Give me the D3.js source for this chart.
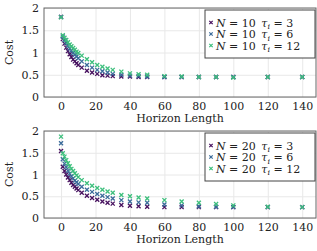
<!DOCTYPE html>
<html>
<head>
<meta charset="utf-8">
<script src="https://cdn.jsdelivr.net/npm/d3@7"></script>
<style>
  body { margin: 0; background: #fff; }
  svg text { font-family: "DejaVu Serif", serif; fill: #222; }
  .tick text { font-size: 11px; }
  .grid line { stroke: #e8e8e8; }
  .axis-label { font-size: 11px; }
  .legend text { font-size: 11px; }
</style>
</head>
<body>
<div id="chart"></div>
<script>
// horizon lengths (shared by all series)
let horizons = [0, 1, 2, 3, 4, 5, 6, 7, 8, 9, 10, 12, 15, 18, 21, 24, 27, 30,
                35, 40, 45, 50, 60, 70, 80, 90, 100, 120, 140];

// N = 10
let n10tau3  = [1.80, 1.30, 1.20, 1.11, 1.03, 0.96, 0.90, 0.84, 0.80, 0.76, 0.72, 0.66, 0.59, 0.55,
                0.52, 0.49, 0.48, 0.47, 0.46, 0.46, 0.45, 0.45, 0.45, 0.45, 0.45, 0.45, 0.45, 0.45, 0.45];
let n10tau6  = [1.80, 1.36, 1.28, 1.22, 1.15, 1.09, 1.04, 0.99, 0.95, 0.91, 0.87, 0.80, 0.72, 0.66,
                0.61, 0.58, 0.55, 0.52, 0.50, 0.48, 0.47, 0.46, 0.45, 0.45, 0.45, 0.45, 0.45, 0.45, 0.45];
let n10tau12 = [1.79, 1.39, 1.33, 1.28, 1.23, 1.18, 1.14, 1.10, 1.06, 1.02, 0.99, 0.93, 0.85, 0.78,
                0.72, 0.68, 0.64, 0.61, 0.57, 0.53, 0.51, 0.50, 0.47, 0.46, 0.45, 0.45, 0.44, 0.45, 0.45];

// N = 20
let n20tau3  = [1.54, 1.18, 1.08, 1.00, 0.93, 0.87, 0.81, 0.76, 0.72, 0.68, 0.64, 0.58, 0.51, 0.46,
                0.42, 0.38, 0.35, 0.33, 0.30, 0.28, 0.27, 0.26, 0.25, 0.25, 0.25, 0.25, 0.25, 0.25, 0.25];
let n20tau6  = [1.72, 1.35, 1.25, 1.17, 1.09, 1.02, 0.96, 0.91, 0.86, 0.82, 0.78, 0.72, 0.65, 0.60,
                0.55, 0.51, 0.48, 0.45, 0.41, 0.38, 0.36, 0.35, 0.31, 0.29, 0.27, 0.26, 0.25, 0.25, 0.25];
let n20tau12 = [1.87, 1.49, 1.41, 1.33, 1.26, 1.19, 1.13, 1.08, 1.03, 0.98, 0.94, 0.87, 0.80, 0.74,
                0.69, 0.65, 0.61, 0.58, 0.53, 0.50, 0.47, 0.45, 0.41, 0.38, 0.35, 0.32, 0.29, 0.26, 0.25];

let taus = [3, 6, 12];
let colors = ["#46105e", "#3a6b9a", "#3cbf7c"];
let xTicks = [0, 20, 40, 60, 80, 100, 120, 140];
let yTicks = [0, 0.5, 1, 1.5, 2];

let W = 317, H = 251;
let svg = d3.select("#chart").append("svg")
    .attr("width", W)
    .attr("height", H);

let x = d3.scaleLinear().domain([-9.9, 148]).range([44, 316]);

drawPanel(8, 97, 10, [n10tau3, n10tau6, n10tau12], 10);
drawPanel(131, 218, 20, [n20tau3, n20tau6, n20tau12], 133);

function drawPanel(top, bottom, N, series, legendTop) {
    let y = d3.scaleLinear().domain([0, 2]).range([bottom, top]);
    let g = svg.append("g");

    // grid
    g.append("g")
        .attr("class", "grid")
        .attr("transform", "translate(0," + bottom + ")")
        .call(d3.axisBottom(x).tickValues(xTicks).tickSize(-(bottom - top)).tickFormat(""))
        .call(s => s.select(".domain").remove());
    g.append("g")
        .attr("class", "grid")
        .attr("transform", "translate(44,0)")
        .call(d3.axisLeft(y).tickValues(yTicks).tickSize(-272).tickFormat(""))
        .call(s => s.select(".domain").remove());

    // axes
    let xa = g.append("g")
        .attr("transform", "translate(0," + bottom + ")")
        .call(d3.axisBottom(x).tickValues(xTicks).tickSize(0).tickPadding(5));
    xa.select(".domain").remove();
    let ya = g.append("g")
        .attr("transform", "translate(44,0)")
        .call(d3.axisLeft(y).tickValues(yTicks).tickSize(0).tickPadding(5).tickFormat(d3.format("")));
    ya.select(".domain").remove();

    // frame
    g.append("rect")
        .attr("x", 44).attr("y", top)
        .attr("width", 272).attr("height", bottom - top)
        .attr("fill", "none")
        .attr("stroke", "#666")
        .attr("stroke-width", 1);

    // markers
    series.forEach(function(vals, si) {
        let pts = horizons.map((h, i) => ({h: h, c: vals[i]}));
        g.selectAll(".m" + si)
            .data(pts)
            .enter().append("path")
            .attr("transform", d => "translate(" + x(d.h) + "," + y(d.c) + ")")
            .attr("d", "M-2,-2L2,2M-2,2L2,-2")
            .attr("stroke", colors[si])
            .attr("stroke-width", 1.3)
            .attr("fill", "none");
    });

    // labels
    g.append("text")
        .attr("class", "axis-label")
        .attr("x", (44 + 316) / 2)
        .attr("y", bottom + 25)
        .attr("text-anchor", "middle")
        .text("Horizon Length");
    g.append("text")
        .attr("class", "axis-label")
        .attr("transform", "translate(13," + ((top + bottom) / 2) + ") rotate(-90)")
        .attr("text-anchor", "middle")
        .text("Cost");

    // legend
    let lg = g.append("g").attr("class", "legend");
    lg.append("rect")
        .attr("x", 205).attr("y", legendTop)
        .attr("width", 110).attr("height", 48)
        .attr("fill", "#fff")
        .attr("stroke", "#444")
        .attr("stroke-width", 1);
    taus.forEach(function(t, i) {
        let cy = legendTop + 12.5 + i * 11.5;
        lg.append("path")
            .attr("transform", "translate(211," + cy + ")")
            .attr("d", "M-1.7,-1.7L1.7,1.7M-1.7,1.7L1.7,-1.7")
            .attr("stroke", colors[i])
            .attr("stroke-width", 1.2);
        let t1 = lg.append("text").attr("x", 216).attr("y", cy + 4);
        t1.append("tspan").attr("font-style", "italic").text("N");
        t1.append("tspan").text(" = " + N + "\u2002");
        t1.append("tspan").attr("font-style", "italic").text("\u03c4");
        t1.append("tspan").attr("font-style", "italic").attr("font-size", "8px").attr("dy", 2.5).text("i");
        t1.append("tspan").attr("dy", -2.5).text(" = " + t);
    });
}
</script>
</body>
</html>
